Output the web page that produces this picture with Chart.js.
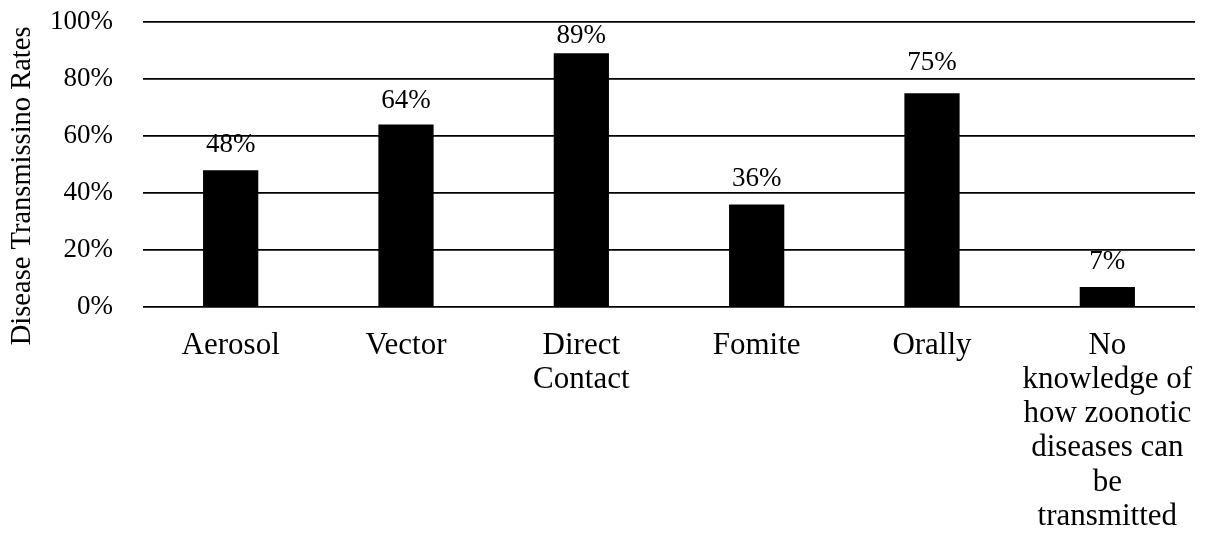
<!DOCTYPE html>
<html>
<head>
<meta charset="utf-8">
<script src="https://cdn.jsdelivr.net/npm/chart.js@4"></script>
<style>
  html, body { margin: 0; padding: 0; background: #fff; }
  #wrap { width: 1207px; height: 546px; }
</style>
</head>
<body>
<div id="wrap"><canvas id="myChart" width="1207" height="546"></canvas></div>
<script>
const categories = [
  'Aerosol',
  'Vector',
  ['Direct', 'Contact'],
  'Fomite',
  'Orally',
  ['No', 'knowledge of', 'how zoonotic', 'diseases can', 'be', 'transmitted']
];
const rates = [48, 64, 89, 36, 75, 7];
const yTicks = [0, 20, 40, 60, 80, 100];

// gap in px between bar top and its label baseline
const labelGap = [18, 17, 10, 18, 23, 18];

const FONT = "'Liberation Serif', 'Times New Roman', serif";

// draw the percentage above each bar
const valueLabels = {
  id: 'valueLabels',
  afterDatasetsDraw(chart) {
    const ctx = chart.ctx;
    const meta = chart.getDatasetMeta(0);
    ctx.save();
    ctx.font = '27px ' + FONT;
    ctx.fillStyle = '#000';
    ctx.textAlign = 'center';
    ctx.textBaseline = 'alphabetic';
    meta.data.forEach(function(bar, i) {
      ctx.fillText(rates[i] + '%', bar.x, bar.y - labelGap[i]);
    });
    ctx.restore();
  }
};

const ctx = document.getElementById('myChart').getContext('2d');
new Chart(ctx, {
  type: 'bar',
  data: {
    labels: categories,
    datasets: [{
      data: rates,
      backgroundColor: '#000',
      borderWidth: 0,
      categoryPercentage: 1,
      barPercentage: 0.315
    }]
  },
  options: {
    responsive: false,
    animation: false,
    layout: { padding: { top: 22, right: 12, left: 0, bottom: 0 } },
    plugins: { legend: { display: false }, tooltip: { enabled: false } },
    scales: {
      x: {
        grid: { display: false, drawTicks: false },
        border: { display: false },
        ticks: {
          color: '#000',
          font: { family: FONT, size: 31, lineHeight: 1.1 },
          maxRotation: 0,
          autoSkip: false,
          padding: 22
        },
        afterFit: function(scale) {
          scale.height = 239;
          scale.paddingLeft = 0;
          scale.paddingRight = 0;
        }
      },
      y: {
        min: 0,
        max: 100,
        afterBuildTicks: function(scale) {
          scale.ticks = yTicks.map(v => ({ value: v }));
        },
        grid: { color: '#000', lineWidth: 1.8, drawTicks: false },
        border: { display: false },
        ticks: {
          color: '#000',
          font: { family: FONT, size: 27 },
          padding: 30,
          callback: v => v + '%'
        },
        title: {
          display: true,
          text: 'Disease Transmissino Rates      ',
          color: '#000',
          font: { family: FONT, size: 28.5 },
          padding: { top: 5, bottom: 0 }
        },
        afterFit: function(scale) {
          scale.width = 143;
          scale.paddingTop = 0;
          scale.paddingBottom = 0;
        }
      }
    }
  },
  plugins: [valueLabels]
});
</script>
</body>
</html>
